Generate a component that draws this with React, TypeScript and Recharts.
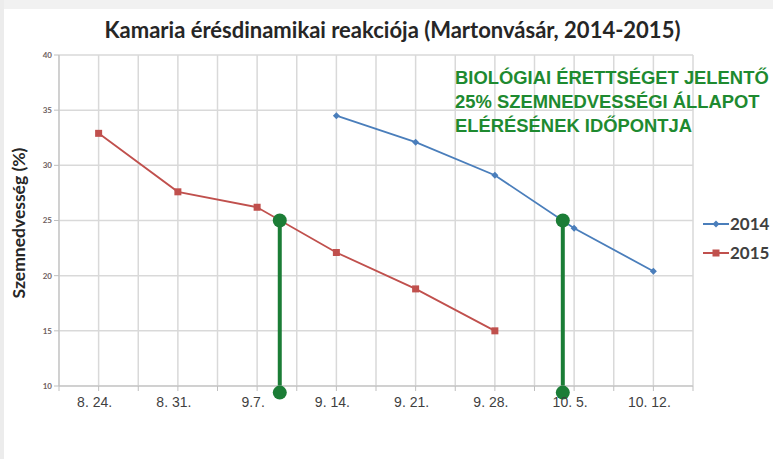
import { LineChart, Line, XAxis, YAxis, CartesianGrid, ReferenceLine, ReferenceDot } from 'recharts';

const dayLabels = ['8. 24.', '8. 31.', '9.7.', '9. 14.', '9. 21.', '9. 28.', '10. 5.', '10. 12.'];
const days = [0, 7, 14, 21, 28, 35, 42, 49];
const values2014 = [null, null, null, 34.5, 32.1, 29.1, 24.3, 20.4];
const values2015 = [32.9, 27.6, 26.2, 22.1, 18.8, 15.0, null, null];
const yTicks = [10, 15, 20, 25, 30, 35, 40];
const markerDays = [16, 41];
const markerTop = 25;
const markerBottom = 9.4;

const annotation = ['BIOLÓGIAI ÉRETTSÉGET JELENTŐ', '25% SZEMNEDVESSÉGI ÁLLAPOT', 'ELÉRÉSÉNEK IDŐPONTJA'];

const BLUE = '#4a7ebb';
const RED = '#c0504d';
const GREEN = '#1b7d36';

const data = days.map((d, i) => ({ day: d, y2014: values2014[i], y2015: values2015[i] }));

// half-week gridlines, like the original excel date axis
const gridDays: number[] = [];
for (let d = -3.5; d <= 52.5; d += 3.5) gridDays.push(d);

const series = [
  { key: 'y2014', name: '2014', color: BLUE, shape: 'diamond' },
  { key: 'y2015', name: '2015', color: RED, shape: 'square' },
];

function marker(shape: string, color: string) {
  return (p: any) => {
    const k = `${shape}-${p.index}`;
    if (p.cx == null || p.cy == null || p.value == null) return <g key={k} />;
    if (shape === 'square') {
      return <rect key={k} x={p.cx - 3.5} y={p.cy - 3.5} width={7} height={7} fill={color} />;
    }
    return (
      <path
        key={k}
        d={`M${p.cx},${p.cy - 3.5}L${p.cx + 3.5},${p.cy}L${p.cx},${p.cy + 3.5}L${p.cx - 3.5},${p.cy}Z`}
        fill={color}
      />
    );
  };
}

const XTick = (props: any) => {
  const { x, y, payload } = props;
  const i = days.indexOf(payload.value);
  if (i < 0) return <g />;
  return (
    <text
      x={x - 4}
      y={y + 14}
      textAnchor="middle"
      fontFamily="'Liberation Sans Narrow', 'Liberation Sans', sans-serif"
      fontSize={14}
      fill="#3f3f3f"
    >
      {dayLabels[i]}
    </text>
  );
};

export default function App() {
  return (
    <div
      style={{
        position: 'absolute',
        left: 0,
        top: 0,
        width: 773,
        height: 459,
        background: '#fff',
        fontFamily: 'Lato, sans-serif',
        overflow: 'hidden',
      }}
    >
      <div style={{ position: 'absolute', left: 0, top: 0, width: 773, height: 9, background: '#f1f1f1' }} />
      <div style={{ position: 'absolute', left: 0, top: 0, width: 4, height: 459, background: '#ececec' }} />
      <div
        style={{
          position: 'absolute',
          left: 0,
          top: 16,
          width: 785,
          textAlign: 'center',
          fontWeight: 700,
          fontSize: 22,
          color: '#262626',
        }}
      >
        Kamaria érésdinamikai reakciója (Martonvásár, 2014-2015)
      </div>
      <LineChart
        width={773}
        height={459}
        data={data}
        margin={{ top: 55, right: 80, bottom: 43, left: 0 }}
      >
        <CartesianGrid stroke="#d9d9d9" strokeWidth={1.5} vertical={false} />
        {gridDays.map((d) => (
          <ReferenceLine key={`g-${d}`} x={d} stroke="#d9d9d9" strokeWidth={1.5} />
        ))}
        <XAxis
          dataKey="day"
          type="number"
          domain={[-3.5, 52.5]}
          ticks={gridDays}
          interval={0}
          height={30}
          stroke="#bfbfbf"
          tickLine={{ stroke: '#bfbfbf' }}
          tickSize={5}
          tick={<XTick />}
        />
        <YAxis
          type="number"
          domain={[10, 40]}
          ticks={yTicks}
          width={59}
          stroke="#bfbfbf"
          tickSize={5}
          tick={{ fontSize: 8, fill: '#6e6060', fontWeight: 700 }}
        />
        {series.map((s) => (
          <Line
            key={s.key}
            dataKey={s.key}
            name={s.name}
            stroke={s.color}
            strokeWidth={1.8}
            dot={marker(s.shape, s.color)}
            activeDot={false}
            isAnimationActive={false}
          />
        ))}
        {markerDays.map((d) => (
          <ReferenceLine
            key={`ml-${d}`}
            segment={[
              { x: d, y: markerTop },
              { x: d, y: markerBottom },
            ]}
            stroke={GREEN}
            strokeWidth={4}
            ifOverflow="visible"
          />
        ))}
        {markerDays.map((d) => (
          <ReferenceDot key={`mt-${d}`} x={d} y={markerTop} r={7} fill={GREEN} stroke="none" ifOverflow="visible" />
        ))}
        {markerDays.map((d) => (
          <ReferenceDot key={`mb-${d}`} x={d} y={markerBottom} r={7} fill={GREEN} stroke="none" ifOverflow="visible" />
        ))}
      </LineChart>
      <div
        style={{
          position: 'absolute',
          left: 18,
          top: 223,
          transform: 'translate(-50%, -50%) rotate(-90deg)',
          whiteSpace: 'nowrap',
          fontWeight: 700,
          fontSize: 17.5,
          color: '#262626',
        }}
      >
        Szemnedvesség (%)
      </div>
      <div
        style={{
          position: 'absolute',
          left: 455,
          top: 66,
          fontFamily: "'Liberation Sans Narrow', 'Liberation Sans', sans-serif",
          fontWeight: 700,
          fontSize: 18.4,
          lineHeight: '24px',
          color: '#1e8a30',
          whiteSpace: 'nowrap',
        }}
      >
        {annotation.map((t) => (
          <div key={t}>{t}</div>
        ))}
      </div>
      <div style={{ position: 'absolute', left: 703, top: 209 }}>
        {series.map((s) => (
          <div key={s.key} style={{ display: 'flex', alignItems: 'center', height: 29 }}>
            <svg width={26} height={10}>
              <line x1={0} y1={5} x2={26} y2={5} stroke={s.color} strokeWidth={2} />
              {s.shape === 'square' ? (
                <rect x={9.5} y={1.5} width={7} height={7} fill={s.color} />
              ) : (
                <path d="M13,1.5L16.5,5L13,8.5L9.5,5Z" fill={s.color} />
              )}
            </svg>
            <span style={{ fontWeight: 700, fontSize: 17, color: '#404040', marginLeft: 1 }}>{s.name}</span>
          </div>
        ))}
      </div>
    </div>
  );
}
